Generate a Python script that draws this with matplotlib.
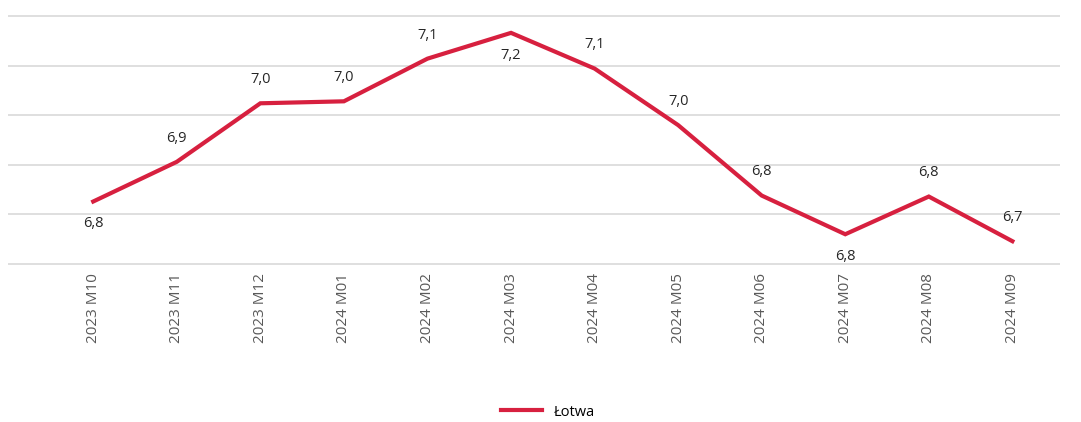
import matplotlib.pyplot as plt
import numpy as np

# ======================
# DATOS
# ======================
meses = ['2023 M10', '2023 M11', '2023 M12', '2024 M01', '2024 M02', '2024 M03',
         '2024 M04', '2024 M05', '2024 M06', '2024 M07', '2024 M08', '2024 M09']
valores = [6.826, 6.906, 7.024, 7.028, 7.114, 7.166,
           7.094, 6.980, 6.838, 6.760, 6.836, 6.746]
# posición de la etiqueta: 1 arriba, -1 abajo
posicion = [-1, 1, 1, 1, 1, -1, 1, 1, 1, -1, 1, 1]

COLOR = '#D7203F'
GRIS = '#595959'

plt.rcParams['font.family'] = ['Open Sans', 'DejaVu Sans']

fig = plt.figure(figsize=(10.81, 4.22), dpi=100)
ax = fig.add_axes([8 / 1081, 1 - 265 / 422, 1052 / 1081, 250 / 422])

x = np.arange(len(meses))
ax.plot(x, valores, color=COLOR, linewidth=3, solid_joinstyle='miter', label='Łotwa')

for xi, v, p in zip(x, valores, posicion):
    txt = f'{v:.1f}'.replace('.', ',')
    dy = 17 if p > 0 else -16
    ax.annotate(txt, (xi, v), xytext=(0, dy), textcoords='offset points',
                ha='center', va='center', fontsize=10.5, color='#262626')

ax.set_xlim(-1.02, 11.57)
ax.set_ylim(6.698, 7.202)
ax.set_yticks(np.arange(6.7, 7.21, 0.1))
ax.set_yticklabels([])
ax.tick_params(axis='y', length=0)
ax.grid(axis='y', color='#D9D9D9', linewidth=1.2)
ax.set_axisbelow(True)

ax.set_xticks(x)
ax.set_xticklabels(meses, rotation=90, color=GRIS, fontsize=11)
ax.tick_params(axis='x', length=0, pad=6)

for s in ax.spines.values():
    s.set_visible(False)

fig.legend(loc='center', bbox_to_anchor=(548 / 1081, 1 - 412 / 422), frameon=False,
           fontsize=10.5, handlelength=2.8, handletextpad=0.8)

fig.savefig('out.png', dpi=100)
